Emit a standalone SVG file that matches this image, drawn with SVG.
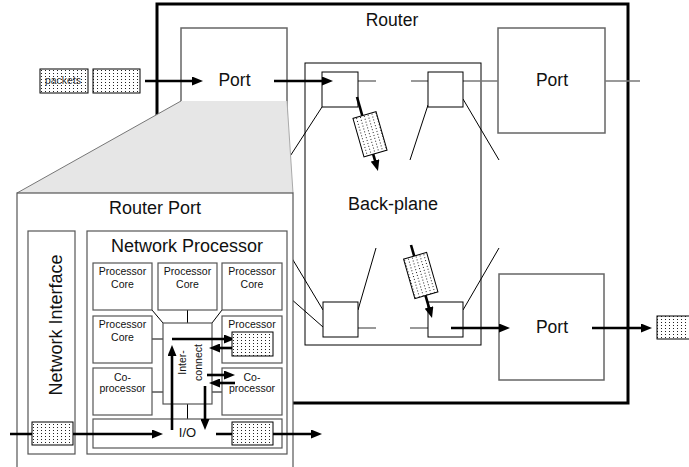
<svg xmlns="http://www.w3.org/2000/svg" width="689" height="467" viewBox="0 0 689 467">
<defs>
<pattern id="dots" width="4" height="3" patternUnits="userSpaceOnUse"><rect width="4" height="3" fill="#fff"/><rect x="1" y="1" width="1" height="1" fill="#222"/></pattern>
<marker id="ah" markerWidth="11" markerHeight="9" refX="3" refY="4.5" orient="auto" markerUnits="userSpaceOnUse"><path d="M0,0 L11,4.5 L0,9 z" fill="#000"/></marker>
<style>
text{font-family:"Liberation Sans",Arial,sans-serif;fill:#111}
.port{fill:#fff;stroke:#666;stroke-width:1.5}
.box{fill:#fff;stroke:#000;stroke-width:1}
.gbox{fill:#fff;stroke:#555;stroke-width:1.2}
.thin{stroke:#000;stroke-width:1;fill:none}
.stub{stroke:#777;stroke-width:1.5;fill:none}
.arr{stroke:#000;stroke-width:2.6;fill:none;marker-end:url(#ah)}
.pkt{fill:url(#dots);stroke:#000;stroke-width:1}
.big{font-size:17.5px;text-anchor:middle}
.sm{font-size:10.5px;text-anchor:middle}
</style>
</defs>

<g id="router">
<rect x="157" y="4" width="471" height="399" fill="#fff" stroke="#000" stroke-width="3"/>
<text class="big" x="392" y="26">Router</text>
</g>

<g id="port-in">
<rect class="port" x="181" y="28" width="106" height="105"/>
<text class="big" x="234.5" y="86">Port</text>
</g>

<g id="port-top-right">
<rect class="port" x="498" y="28" width="107" height="105"/>
<text class="big" x="552" y="86">Port</text>
</g>

<g id="port-out">
<rect class="port" x="499" y="274" width="105" height="106"/>
<text class="big" x="552" y="333">Port</text>
</g>

<g id="backplane">
<rect class="box" x="305" y="63" width="176" height="282"/>
<text class="big" x="393" y="210" style="font-size:18px">Back-plane</text>
</g>

<g id="connectors">
<line class="stub" x1="358" y1="81" x2="376" y2="81"/>
<line class="stub" x1="411" y1="81" x2="428" y2="81"/>
<line class="stub" x1="463" y1="81" x2="498" y2="81"/>
<line class="stub" x1="605" y1="81" x2="640" y2="81"/>
<line class="stub" x1="358" y1="328" x2="376" y2="328"/>
<line class="stub" x1="410" y1="328" x2="428" y2="328"/>
<line class="thin" x1="322" y1="107" x2="285" y2="164"/>
<line class="thin" x1="428" y1="105" x2="410" y2="160"/>
<line class="thin" x1="463" y1="99" x2="499" y2="160"/>
<line class="thin" x1="358" y1="310" x2="376" y2="248"/>
<line class="thin" x1="463" y1="310" x2="499" y2="248"/>
<line class="thin" x1="323" y1="310" x2="290" y2="255"/>
<line class="thin" x1="323" y1="327" x2="290" y2="298"/>
</g>

<g id="switch-tl"><rect class="box" x="322" y="72" width="36" height="35"/></g>
<g id="switch-tr"><rect class="box" x="428" y="72" width="35" height="35"/></g>
<g id="switch-bl"><rect class="box" x="323" y="302" width="35" height="35"/></g>
<g id="switch-br"><rect class="box" x="428" y="302" width="35" height="35"/></g>

<g id="arrows-router">
<line class="arr" x1="145" y1="81" x2="195" y2="81"/>
<line class="arr" x1="274" y1="81" x2="325" y2="81"/>
<line class="arr" x1="357" y1="97" x2="375.8" y2="163.3"/>
<line class="arr" x1="411" y1="245" x2="429.8" y2="310.3"/>
<line class="arr" x1="451" y1="328" x2="502" y2="328"/>
<line class="arr" x1="592" y1="328" x2="644" y2="328"/>
</g>

<g id="packets">
<rect class="pkt" x="40" y="69" width="48" height="24"/>
<text x="63" y="84" style="font-size:10.5px;text-anchor:middle;fill:#333">packets</text>
<rect class="pkt" x="93" y="69" width="47" height="24"/>
<rect class="pkt" x="358" y="114.25" width="24" height="40" transform="rotate(-16 370 134.25)"/>
<rect class="pkt" x="408.75" y="255" width="24" height="41" transform="rotate(-16 420.75 275.5)"/>
<rect class="pkt" x="657" y="316" width="48" height="23"/>
</g>

<g id="lens">
<polygon points="181,101 287,101 293,193 17,193" fill="#e6e6e6" stroke="none"/>
<line x1="181" y1="101" x2="17" y2="193" stroke="#777" stroke-width="1"/>
<line x1="287" y1="101" x2="293" y2="193" stroke="#aaa" stroke-width="1"/>
</g>

<g id="router-port">
<rect class="gbox" x="17" y="193" width="276" height="290"/>
<text class="big" x="155" y="214" style="font-size:18px">Router Port</text>
</g>

<g id="network-interface">
<rect class="gbox" x="28" y="231" width="47" height="223"/>
<text transform="translate(61.5 325) rotate(-90)" x="0" y="0" style="font-size:18px;text-anchor:middle">Network Interface</text>
</g>

<g id="network-processor">
<rect class="gbox" x="87" y="231" width="200" height="223"/>
<text x="187" y="252" style="font-size:18px;text-anchor:middle">Network Processor</text>
</g>

<g id="np-links">
<line class="thin" x1="152" y1="310" x2="163" y2="323"/>
<line class="thin" x1="187.5" y1="310" x2="187.5" y2="323"/>
<line class="thin" x1="222" y1="310" x2="212" y2="323"/>
<line class="thin" x1="152" y1="339" x2="163" y2="339"/>
<line class="thin" x1="212" y1="339" x2="222" y2="339"/>
<line class="thin" x1="152" y1="392" x2="163" y2="392"/>
<line class="thin" x1="212" y1="392" x2="222" y2="392"/>
<line class="thin" x1="187.5" y1="404" x2="187.5" y2="419"/>
</g>

<g id="core-1"><rect class="gbox" x="93" y="263" width="59" height="47"/><text class="sm" x="122.5" y="275">Processor</text><text class="sm" x="122.5" y="288">Core</text></g>
<g id="core-2"><rect class="gbox" x="158" y="263" width="59" height="47"/><text class="sm" x="187.5" y="275">Processor</text><text class="sm" x="187.5" y="288">Core</text></g>
<g id="core-3"><rect class="gbox" x="222" y="263" width="60" height="47"/><text class="sm" x="252" y="275">Processor</text><text class="sm" x="252" y="288">Core</text></g>
<g id="core-4"><rect class="gbox" x="93" y="316" width="59" height="47"/><text class="sm" x="122.5" y="328">Processor</text><text class="sm" x="122.5" y="341">Core</text></g>
<g id="core-5"><rect class="gbox" x="222" y="316" width="60" height="47"/><text class="sm" x="252" y="328">Processor</text></g>
<g id="coproc-1"><rect class="gbox" x="93" y="368" width="59" height="47"/><text class="sm" x="122.5" y="381">Co-</text><text class="sm" x="122.5" y="392">processor</text></g>
<g id="coproc-2"><rect class="gbox" x="222" y="368" width="60" height="47"/><text class="sm" x="252" y="381">Co-</text><text class="sm" x="252" y="392">processor</text></g>
<g id="interconnect"><rect class="gbox" x="163" y="323" width="49" height="81"/>
<g transform="translate(194 362.5) rotate(-90)"><text x="0" y="-8.5" style="font-size:10.5px;text-anchor:middle">Inter-</text><text x="0" y="8" style="font-size:10.5px;text-anchor:middle">connect</text></g>
</g>
<g id="io"><rect class="gbox" x="93" y="419" width="189" height="29"/><text x="187.5" y="436.5" style="font-size:13px;text-anchor:middle">I/O</text></g>

<g id="arrows-port">
<line class="arr" x1="10" y1="434" x2="155" y2="434"/>
<line class="arr" x1="172" y1="430" x2="172" y2="353"/>
<line class="arr" x1="172" y1="339" x2="227" y2="339"/>
<line class="arr" x1="235" y1="348" x2="217" y2="348"/>
<line class="arr" x1="207" y1="375" x2="227" y2="375"/>
<line class="arr" x1="235" y1="383" x2="217" y2="383"/>
<line class="arr" x1="205" y1="386" x2="205" y2="422"/>
<line class="arr" x1="216" y1="434" x2="314" y2="434"/>
</g>

<g id="port-packets">
<rect class="pkt" x="232" y="332" width="41" height="24"/>
<rect class="pkt" x="32" y="422" width="41" height="23"/>
<rect class="pkt" x="232" y="422" width="41" height="23"/>
</g>
</svg>
